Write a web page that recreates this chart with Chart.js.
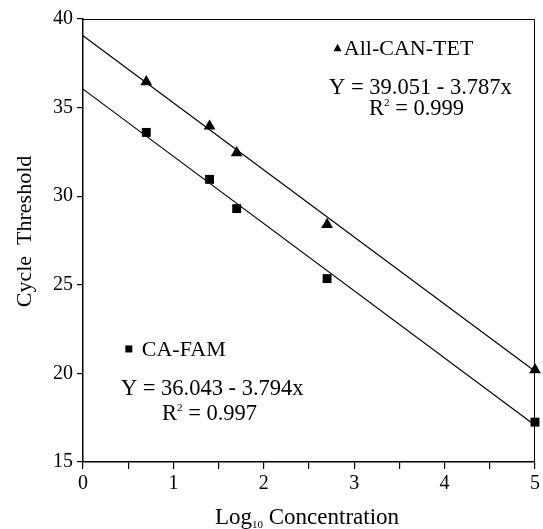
<!DOCTYPE html>
<html>
<head>
<meta charset="utf-8">
<script src="https://cdn.jsdelivr.net/npm/chart.js@4/dist/chart.umd.min.js"></script>
<style>
  body { margin: 0; background: #fff; }
  #wrap { width: 543px; height: 529px; position: relative; }
</style>
</head>
<body>
<div id="wrap"><canvas id="ctChart"></canvas></div>
<script>
// Dữ liệu
const tetX = [0.7, 1.4, 1.7, 2.7, 5.0];
const tetY = [36.45, 33.95, 32.45, 28.4, 20.2];
const famX = [0.7, 1.4, 1.7, 2.7, 5.0];
const famY = [33.6, 30.95, 29.3, 25.35, 17.25];

// Đường hồi quy (hai đầu mút, x = 0 và x = 5)
const fitX = [0, 5];
const tetFitY = [39.051, 20.116];
const famFitY = [36.043, 17.073];

const yTicks = [15, 20, 25, 30, 35, 40];
const FONT = "'Liberation Serif', 'Times New Roman', serif";

function toPoints(xs, ys) {
    return xs.map((x, i) => ({ x: x, y: ys[i] }));
}

// vẽ chuỗi chữ có chỉ số trên / dưới
function drawRich(ctx, parts, x, y, align) {
    let total = 0;
    parts.forEach(p => {
        ctx.font = p.size + "px " + FONT;
        p.w = ctx.measureText(p.t).width;
        total += p.w;
    });
    let cx = align === "center" ? x - total / 2 : x;
    ctx.textAlign = "left";
    ctx.textBaseline = "alphabetic";
    parts.forEach(p => {
        ctx.font = p.size + "px " + FONT;
        ctx.fillText(p.t, cx, y + (p.dy || 0));
        cx += p.w;
    });
}

const annotations = {
    id: "annotations",
    afterDraw(chart) {
        const ctx = chart.ctx;
        const xs = chart.scales.x, ys = chart.scales.y;
        const a = chart.chartArea;
        const px = v => xs.getPixelForValue(v);
        const py = v => ys.getPixelForValue(v);
        ctx.save();
        ctx.fillStyle = "#000";
        ctx.strokeStyle = "#000";

        // khung trên và phải
        ctx.lineWidth = 1;
        ctx.beginPath();
        ctx.moveTo(a.left, a.top + 0.5);
        ctx.lineTo(a.right - 0.5, a.top + 0.5);
        ctx.lineTo(a.right - 0.5, a.bottom);
        ctx.stroke();

        // chú thích All-CAN-TET
        let mx = px(2.816), my = py(38.35);
        ctx.beginPath();
        ctx.moveTo(mx, my - 4.5);
        ctx.lineTo(mx + 4, my + 3);
        ctx.lineTo(mx - 4, my + 3);
        ctx.closePath();
        ctx.fill();
        drawRich(ctx, [{ t: "All-CAN-TET", size: 22 }], px(2.885), my + 7, "left");
        drawRich(ctx, [{ t: "Y = 39.051 - 3.787x", size: 22.5 }], px(3.733), py(36.16) + 7, "center");
        drawRich(ctx, [{ t: "R", size: 22.5 }, { t: "2", size: 11, dy: -9 }, { t: " = 0.999", size: 22.5 }],
            px(3.69), py(34.98) + 7, "center");

        // chú thích CA-FAM
        mx = px(0.507); my = py(21.38);
        ctx.fillRect(mx - 3.5, my - 3.5, 7, 7);
        drawRich(ctx, [{ t: "CA-FAM", size: 22 }], px(0.65), my + 7, "left");
        drawRich(ctx, [{ t: "Y = 36.043 - 3.794x", size: 22.5 }], px(1.43), py(19.18) + 7, "center");
        drawRich(ctx, [{ t: "R", size: 22.5 }, { t: "2", size: 11, dy: -9 }, { t: " = 0.997", size: 22.5 }],
            px(1.40), py(17.77) + 7, "center");

        // tiêu đề trục x có chỉ số dưới
        drawRich(ctx, [{ t: "Log", size: 23 }, { t: "10", size: 11, dy: 4 }, { t: " Concentration", size: 23 }],
            (a.left + a.right) / 2 - 2, 524, "center");

        // tiêu đề trục y
        ctx.translate(25, (a.top + a.bottom) / 2 - 9);
        ctx.rotate(-Math.PI / 2);
        ctx.font = "22px " + FONT;
        ctx.textAlign = "center";
        ctx.textBaseline = "middle";
        ctx.fillText("Cycle  Threshold", 0, 0);
        ctx.restore();
    }
};

const ctx = document.getElementById("ctChart").getContext("2d");
new Chart(ctx, {
    type: "scatter",
    data: {
        datasets: [
            {
                label: "All-CAN-TET",
                data: toPoints(tetX, tetY),
                pointStyle: "triangle",
                pointRadius: 6.8,
                backgroundColor: "#000",
                borderColor: "#000",
                borderWidth: 0,
                clip: false
            },
            {
                label: "CA-FAM",
                data: toPoints(famX, famY),
                pointStyle: "rect",
                pointRadius: 6.3,
                backgroundColor: "#000",
                borderColor: "#000",
                borderWidth: 0,
                clip: false
            },
            {
                label: "fit TET",
                data: toPoints(fitX, tetFitY),
                showLine: true,
                pointRadius: 0,
                borderColor: "#000",
                borderWidth: 1.2
            },
            {
                label: "fit FAM",
                data: toPoints(fitX, famFitY),
                showLine: true,
                pointRadius: 0,
                borderColor: "#000",
                borderWidth: 1.2
            }
        ]
    },
    options: {
        responsive: true,
        maintainAspectRatio: false,
        animation: false,
        layout: { padding: { top: 19, right: 6, left: 0, bottom: 0 } },
        plugins: {
            legend: { display: false },
            tooltip: { enabled: false }
        },
        scales: {
            x: {
                type: "linear",
                min: 0,
                max: 5,
                afterFit: s => { s.height = 67; },
                border: { display: true, color: "#000", width: 1.5 },
                grid: { drawOnChartArea: false, drawTicks: true, tickLength: 7, color: "#000", lineWidth: 1.2 },
                ticks: {
                    stepSize: 0.5,
                    autoSkip: false,
                    maxRotation: 0,
                    padding: 3,
                    color: "#000",
                    font: { family: FONT, size: 20 },
                    callback: v => (Number.isInteger(v) ? String(v) : "")
                }
            },
            y: {
                type: "linear",
                min: 15,
                max: 40,
                afterFit: s => { s.width = 83; },
                afterBuildTicks: s => { s.ticks = yTicks.map(v => ({ value: v })); },
                border: { display: true, color: "#000", width: 1.5 },
                grid: { drawOnChartArea: false, drawTicks: true, tickLength: 6, color: "#000", lineWidth: 1.2 },
                ticks: {
                    padding: 4,
                    color: "#000",
                    font: { family: FONT, size: 20 }
                }
            }
        }
    },
    plugins: [annotations]
});
</script>
</body>
</html>
